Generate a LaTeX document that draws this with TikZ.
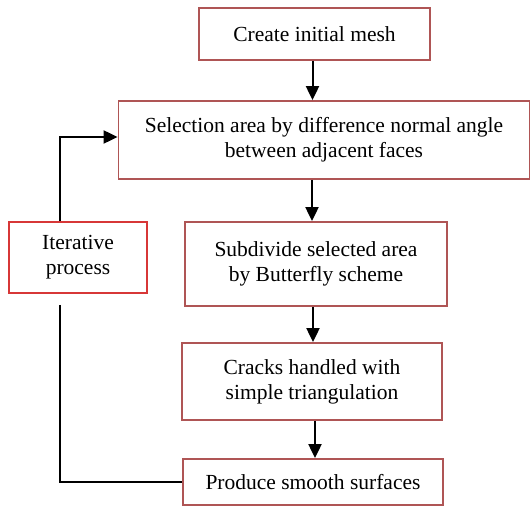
\documentclass[tikz,border=0pt]{standalone}
\usepackage{fontspec}
\setmainfont{Liberation Serif}
\usetikzlibrary{arrows.meta}
\definecolor{boxred}{RGB}{175,85,85}
\definecolor{itred}{RGB}{215,55,55}
\begin{document}
\begin{tikzpicture}[x=1pt,y=-1pt,
  stepbox/.style={draw=boxred, line width=1.8pt, rectangle, align=center, inner sep=0pt,
    font=\fontsize{21.5}{25}\selectfont},
  itbox/.style={stepbox, draw=itred},
  arr/.style={line width=2pt, -{Triangle[length=14pt,width=13pt]}},
  ln/.style={line width=2pt}]
\useasboundingbox (0,0) rectangle (531,508);
\node[stepbox, minimum width=231pt, minimum height=52pt] (b1) at (314.5,34) {Create initial mesh};
\node[stepbox, minimum width=411pt, minimum height=78pt] (b2) at (324,140) {Selection area by difference normal angle\\between adjacent faces};
\node[stepbox, minimum width=262pt, minimum height=84pt] (b3) at (316,264) {Subdivide selected area\\by Butterfly scheme};
\node[stepbox, minimum width=260pt, minimum height=77pt] (b4) at (312,381.5) {Cracks handled with\\simple triangulation};
\node[stepbox, minimum width=260pt, minimum height=46pt] (b5) at (313,482) {Produce smooth surfaces};
\node[itbox, minimum width=138pt, minimum height=71pt] (it) at (78,257.5) {Iterative\\process};
\draw[arr] ([xshift=-2pt]b1.south) -- ([xshift=-2pt]b1.south |- b2.north);
\draw[arr] ([xshift=-12pt]b2.south) -- ([xshift=-12pt]b2.south |- b3.north);
\draw[arr] ([xshift=-3pt]b3.south) -- ([xshift=-3pt]b3.south |- b4.north);
\draw[arr] ([xshift=3pt]b4.south) -- ([xshift=3pt]b4.south |- b5.north);
\coordinate (lb) at ([xshift=-18pt,yshift=-11pt]it.south);
\draw[ln] (lb) |- (b5.west);
\draw[arr] ([xshift=-18pt]it.north) |- ([yshift=3pt]b2.west);
\end{tikzpicture}
\end{document}
